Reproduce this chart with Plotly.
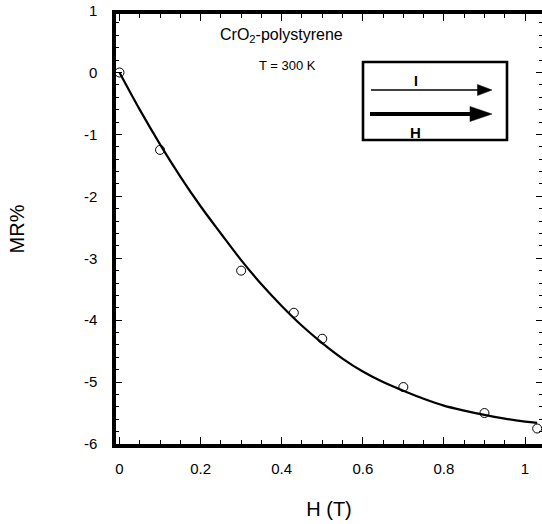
import plotly.graph_objects as go

# ---- data ----
h_meas = [0.0, 0.1, 0.3, 0.43, 0.5, 0.7, 0.9, 1.03]
mr_meas = [0.0, -1.25, -3.2, -3.88, -4.3, -5.08, -5.5, -5.75]

h_fit = [0.0, 0.05, 0.1, 0.15, 0.2, 0.25, 0.3, 0.35, 0.4, 0.45, 0.5, 0.55,
         0.6, 0.65, 0.7, 0.75, 0.8, 0.85, 0.9, 0.95, 1.0, 1.03]
mr_fit = [0.0, -0.60, -1.16, -1.68, -2.16, -2.60, -3.03, -3.42, -3.77, -4.09,
          -4.37, -4.62, -4.83, -5.00, -5.14, -5.27, -5.38, -5.46, -5.53, -5.59,
          -5.64, -5.66]

x_tickvals = [0, 0.2, 0.4, 0.6, 0.8, 1.0]
x_ticktext = ["0", "0.2", "0.4", "0.6", "0.8", "1"]
y_tickvals = [1, 0, -1, -2, -3, -4, -5, -6]
y_ticktext = ["1", "0", "-1", "-2", "-3", "-4", "-5", "-6"]

sample_label = "CrO<sub>2</sub>-polystyrene"
temp_label = "T = 300 K"
x_title = "H (T)"
y_title = "MR%"

# ---- layout geometry ----
W, H = 542, 524
L, R, T, B = 116, 542, 14, 444
XR = [-0.0086, 1.0419]
YR = [-6.0, 0.945]
FONT = "Liberation Sans, Arial, sans-serif"


def px2x(px):
    return XR[0] + (px - L) / (R - L) * (XR[1] - XR[0])


def px2y(py):
    return YR[1] - (py - T) / (B - T) * (YR[1] - YR[0])


fig = go.Figure()
fig.add_trace(go.Scatter(x=h_fit, y=mr_fit, mode="lines", line=dict(color="black", width=2.2, shape="spline"),
                         hoverinfo="skip", showlegend=False))
fig.add_trace(go.Scatter(x=h_meas, y=mr_meas, mode="markers",
                         marker=dict(symbol="circle-open", size=9, color="black", line=dict(width=1)),
                         showlegend=False))
fig.add_trace(go.Scatter(x=[None], y=[None], yaxis="y2", showlegend=False))

shapes = []
# inset box
shapes.append(dict(type="rect", xref="x", yref="y", x0=px2x(363), x1=px2x(507), y0=px2y(62), y1=px2y(140),
                   line=dict(color="black", width=2.6), fillcolor="rgba(0,0,0,0)"))
# thin arrow (I)
shapes.append(dict(type="line", xref="x", yref="y", x0=px2x(371), x1=px2x(479), y0=px2y(90), y1=px2y(90),
                   line=dict(color="black", width=1.5)))
shapes.append(dict(type="path", xref="x", yref="y",
                   path=f"M {px2x(477.5)},{px2y(84.5)} L {px2x(492)},{px2y(90)} L {px2x(477.5)},{px2y(95.5)} Z",
                   fillcolor="black", line=dict(color="black", width=0.5)))
# thick arrow (H)
shapes.append(dict(type="line", xref="x", yref="y", x0=px2x(370), x1=px2x(472), y0=px2y(114), y1=px2y(114),
                   line=dict(color="black", width=4.2)))
shapes.append(dict(type="path", xref="x", yref="y",
                   path=f"M {px2x(470)},{px2y(106.5)} L {px2x(492)},{px2y(114)} L {px2x(470)},{px2y(121.5)} Z",
                   fillcolor="black", line=dict(color="black", width=0.5)))

annotations = [
    dict(x=px2x(281), y=px2y(35), xref="x", yref="y", text=sample_label, showarrow=False,
         font=dict(family=FONT, size=16, color="black")),
    dict(x=px2x(287), y=px2y(65), xref="x", yref="y", text=temp_label, showarrow=False,
         font=dict(family=FONT, size=13, color="black")),
    dict(x=px2x(415.5), y=px2y(81), xref="x", yref="y", text="<b>I</b>", showarrow=False,
         font=dict(family=FONT, size=14, color="black")),
    dict(x=px2x(415), y=px2y(132.5), xref="x", yref="y", text="<b>H</b>", showarrow=False,
         font=dict(family=FONT, size=15, color="black")),
    # top y tick label (value just above the visible axis range)
    dict(x=(99 - L) / (R - L), y=(y_tickvals[0] - YR[0]) / (YR[1] - YR[0]), xref="paper", yref="paper",
         text=y_ticktext[0], showarrow=False, xanchor="right", yanchor="middle",
         font=dict(family=FONT, size=15, color="black")),
]

fig.update_layout(
    width=W, height=H,
    margin=dict(l=L, r=W - R, t=T, b=H - B, autoexpand=False),
    paper_bgcolor="white", plot_bgcolor="white",
    font=dict(family=FONT, color="black"),
    shapes=shapes, annotations=annotations,
    xaxis=dict(range=XR, tickvals=x_tickvals, ticktext=x_ticktext, ticks="inside", ticklen=7, tickwidth=1,
               tickcolor="black", showline=True, linewidth=3.5, linecolor="black", mirror="ticks",
               showgrid=False, zeroline=False, ticklabelstandoff=8,
               tickfont=dict(family=FONT, size=15),
               minor=dict(dtick=0.05, tick0=0, ticks="inside", ticklen=4, tickwidth=1, tickcolor="black",
                          showgrid=False),
               title=dict(text=x_title, font=dict(family=FONT, size=20), standoff=27)),
    yaxis=dict(range=YR, tickvals=y_tickvals[1:], ticktext=y_ticktext[1:], ticks="inside", ticklen=6,
               tickwidth=1, tickcolor="black", showline=True, linewidth=3.5, linecolor="black", mirror=False,
               showgrid=False, zeroline=False, ticklabelstandoff=12,
               tickfont=dict(family=FONT, size=15),
               minor=dict(dtick=0.2, tick0=0, ticks="inside", ticklen=3, tickwidth=1, tickcolor="black",
                          showgrid=False),
               title=dict(text=y_title, font=dict(family=FONT, size=20), standoff=55)),
    yaxis2=dict(range=YR, overlaying="y", side="right", tickvals=y_tickvals[1:], ticks="inside", ticklen=6,
                tickwidth=1, tickcolor="black", showline=False, showticklabels=False, showgrid=False,
                zeroline=False,
                minor=dict(dtick=0.2, tick0=0, ticks="inside", ticklen=3, tickwidth=1, tickcolor="black",
                           showgrid=False)),
)

fig.write_html("out.html", config={"displayModeBar": False},
               post_script="document.body.style.margin='0';document.body.style.overflow='hidden';")
